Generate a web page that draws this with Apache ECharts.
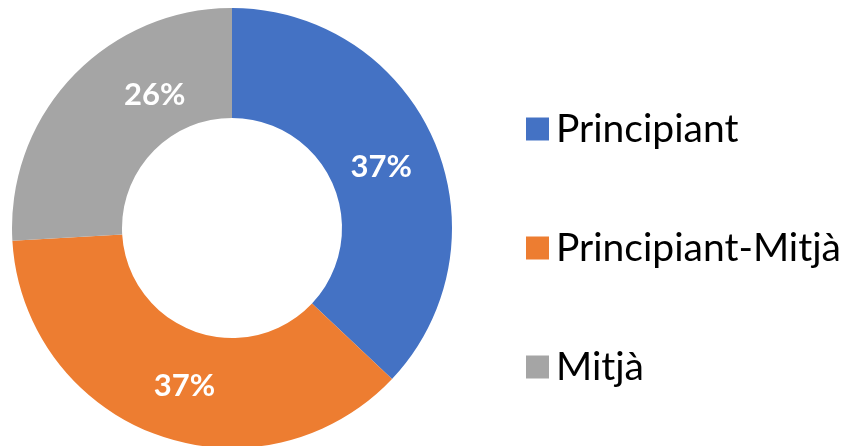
<!DOCTYPE html>
<html>
<head>
<meta charset="utf-8">
<script src="https://cdn.jsdelivr.net/npm/echarts@6/dist/echarts.min.js"></script>
<style>
  html, body { margin: 0; padding: 0; background: #fff; }
  #chart { width: 851px; height: 446px; }
</style>
</head>
<body>
<div id="chart"></div>
<script>
const categories = ["Principiant", "Principiant-Mitjà", "Mitjà"];
const counts = [10, 10, 7];
const colors = ["#4472C4", "#ED7D31", "#A5A5A5"];
// nudges so labels sit where the original put them
const labelNudge = [[-5, 6], [10, 0], [45, -18]];

const chart = echarts.init(document.getElementById("chart"));
chart.setOption({
  animation: false,
  color: colors,
  legend: {
    orient: "vertical",
    left: 521,
    top: 102,
    itemWidth: 23,
    itemHeight: 23,
    itemGap: 75,
    icon: "rect",
    textStyle: {
      fontFamily: "Lato",
      fontSize: 39,
      lineHeight: 44,
      color: "#000",
      padding: [0, 0, 0, 2]
    },
    data: categories
  },
  series: [
    {
      type: "pie",
      center: [232, 228],
      radius: [110, 220],
      startAngle: 90,
      clockwise: true,
      avoidLabelOverlap: false,
      label: {
        position: "inside",
        color: "#fff",
        fontFamily: "Lato",
        fontWeight: "bold",
        fontSize: 31,
        formatter: function (p) {
          return Math.round(p.percent) + "%";
        }
      },
      labelLayout: function (params) {
        const n = labelNudge[params.dataIndex];
        return { dx: n[0], dy: n[1] };
      },
      labelLine: { show: false },
      data: categories.map(function (name, i) {
        return { name: name, value: counts[i] };
      })
    }
  ]
});
</script>
</body>
</html>
